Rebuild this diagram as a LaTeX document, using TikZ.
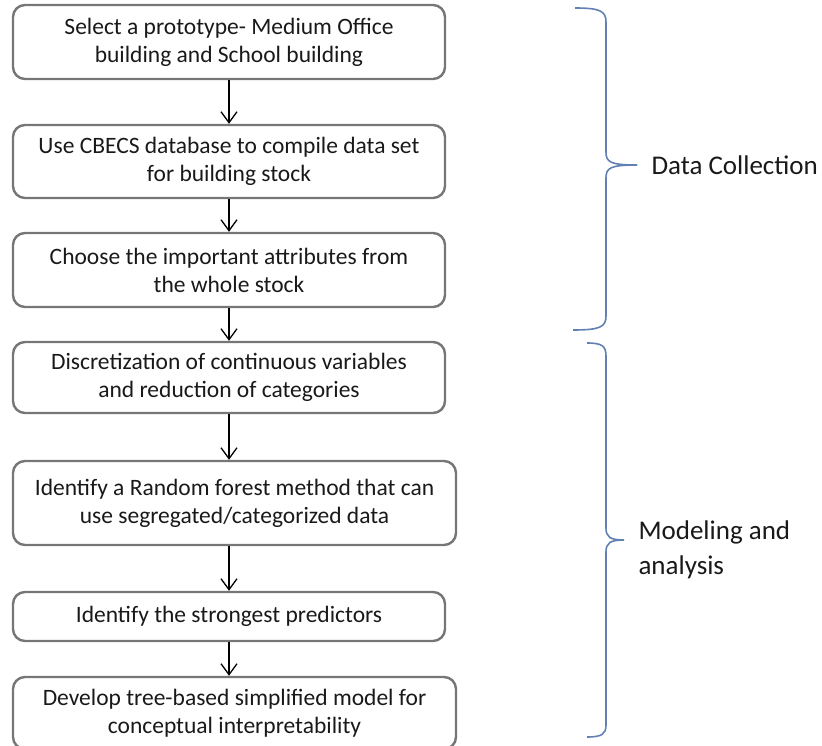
\documentclass[tikz,border=0pt]{standalone}
\usepackage{fontspec}
\setmainfont{Carlito}
\usepackage{tikz}
\usetikzlibrary{arrows.meta}
\definecolor{boxgray}{RGB}{118,118,118}
\definecolor{braceblue}{RGB}{98,128,178}
\definecolor{txt}{RGB}{25,25,25}

\begin{document}
\begin{tikzpicture}[x=1pt, y=1pt,
    stepbox/.style={draw=boxgray, line width=2.4pt, rounded corners=12pt,
        align=center, text=txt, inner sep=0pt,
        font=\fontsize{23.5}{28}\selectfont},
    flow/.style={-{Straight Barb[length=11pt,width=16pt]}, line width=1.3pt},
    bracket/.style={draw=braceblue, line width=1.6pt},
    side/.style={anchor=west, align=left, text=txt,
        font=\fontsize{27}{35}\selectfont}]
    \useasboundingbox (0,0) rectangle (822,-746);

    % steps of the work flow
    \node[stepbox, minimum width=432pt, minimum height=74pt] (proto) at (229,-42)
        {Select a prototype- Medium Office\\building and School building};
    \node[stepbox, minimum width=432pt, minimum height=73pt] (cbecs) at (229,-161.5)
        {Use CBECS database to compile data set\\for building stock};
    \node[stepbox, minimum width=432pt, minimum height=74pt] (attr) at (229,-270)
        {Choose the important attributes from\\the whole stock};
    \node[stepbox, minimum width=432pt, minimum height=71pt] (discr) at (229,-377.5)
        {Discretization of continuous variables\\and reduction of categories};
    \node[stepbox, minimum width=443pt, minimum height=84pt] (forest) at (234.5,-503)
        {Identify a Random forest method that can\\use segregated/categorized data};
    \node[stepbox, minimum width=432pt, minimum height=49pt] (pred) at (229,-616.5)
        {Identify the strongest predictors};
    \node[stepbox, minimum width=443pt, minimum height=72pt] (tree) at (234.5,-713)
        {Develop tree-based simplified model for\\conceptual interpretability};

    \draw[flow] (proto) -- (cbecs);
    \draw[flow] (cbecs) -- (attr);
    \draw[flow] (attr) -- (discr);
    \draw[flow] (discr.south) -- (discr.south |- forest.north);
    \draw[flow] (forest.south -| pred.north) -- (pred.north);
    \draw[flow] (pred.south) -- (pred.south |- tree.north);

    % braces for the two phases
    \draw[bracket] (575,-8) .. controls (600,-8) and (606,-11) .. (606,-22)
        -- (606,-152) .. controls (606,-162) and (610,-165) .. (637,-165);
    \draw[bracket] (637,-165) .. controls (610,-165) and (606,-168) .. (606,-178)
        -- (606,-316) .. controls (606,-327) and (600,-330) .. (573,-330);
    \draw[bracket] (587,-343) .. controls (602,-343) and (606,-346) .. (606,-356)
        -- (606,-528) .. controls (606,-537) and (610,-540) .. (624,-540);
    \draw[bracket] (624,-540) .. controls (610,-540) and (606,-543) .. (606,-552)
        -- (606,-725) .. controls (606,-734) and (602,-737) .. (587,-737);

    \node[side] (collect) at (648,-165) {Data Collection};
    \node[side] (model) at (635,-550) {Modeling and\\analysis};
\end{tikzpicture}
\end{document}
